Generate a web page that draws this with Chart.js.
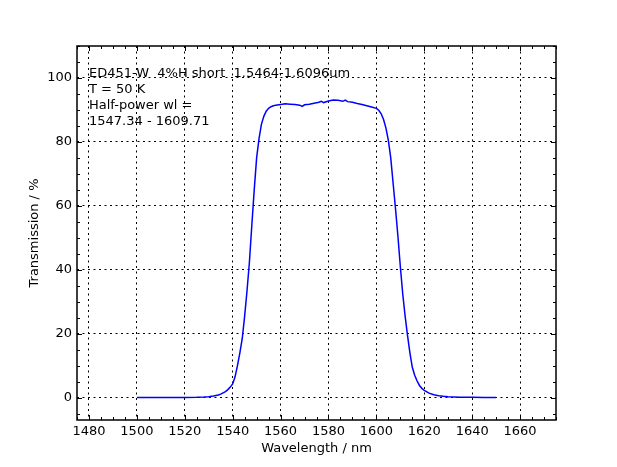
<!DOCTYPE html>
<html lang="en">
<head>
  <meta charset="UTF-8">
  <title>ED451-W transmission</title>
  <style>
    body { margin: 0; background: #fff; }
    #wrap { width: 617px; height: 467px; }
  </style>
</head>
<body>
<div id="wrap">
  <canvas id="transChart" width="617" height="467"></canvas>
</div>
<script src="https://cdn.jsdelivr.net/npm/chart.js"></script>
<script>
  // wavelength (nm) and transmission (%)
  const wavelength = [
    1500, 1505, 1510, 1515, 1520, 1525, 1528, 1530, 1532, 1534,
    1535, 1536, 1537, 1538, 1539, 1540, 1541, 1542, 1543, 1544,
    1545, 1546, 1547, 1548, 1549, 1550, 1551, 1552, 1553, 1554,
    1555, 1556, 1557, 1558, 1560, 1562, 1564, 1566, 1568, 1569,
    1570, 1572, 1574, 1576, 1577, 1578, 1580, 1582, 1584, 1586,
    1587, 1588, 1590, 1592, 1594, 1596, 1598, 1600, 1601, 1602,
    1603, 1604, 1605, 1606, 1607, 1608, 1609, 1610, 1611, 1612,
    1613, 1614, 1615, 1616, 1617, 1618, 1619, 1620, 1622, 1624,
    1626, 1628, 1630, 1635, 1640, 1645, 1650
  ];
  const transmission = [
    0.0, 0.0, 0.0, 0.0, 0.05, 0.1, 0.2, 0.3, 0.5, 0.8,
    1.1, 1.5, 1.9, 2.5, 3.3, 4.3, 6.5, 10, 14, 18.5,
    25.5, 33.5, 42.5, 54, 65, 75, 81, 85.5, 88, 89.6,
    90.5, 91.0, 91.3, 91.5, 91.7, 91.9, 91.8, 91.7, 91.5, 91.1,
    91.6, 91.8, 92.1, 92.4, 92.7, 92.3, 92.8, 93.1, 93.0, 92.7,
    93.1, 92.6, 92.4, 92.0, 91.7, 91.3, 90.9, 90.5, 89.9, 88.8,
    87.0, 84.3, 80.5, 75, 67, 59, 50.5, 41, 32.5, 25.5,
    19.5, 14, 9.5, 7, 5.2, 3.8, 2.9, 2.3, 1.4, 0.9,
    0.6, 0.4, 0.3, 0.15, 0.1, 0.05, 0.05
  ];

  const xTicks = [1480, 1500, 1520, 1540, 1560, 1580, 1600, 1620, 1640, 1660];
  const yTicks = [0, 20, 40, 60, 80, 100];
  const xRange = [1475, 1675];
  const yRange = [-7, 110];
  const noteLines = [
    'ED451-W  4%H short  1.5464-1.6096um',
    'T = 50 K',
    'Half-power wl =',
    '1547.34 - 1609.71'
  ];

  const FONT = 'DejaVu Sans';

  // matplotlib style frame: box around axes, inward ticks on all four sides, note text
  const framePlugin = {
    id: 'frame',
    afterDatasetsDraw(chart) {
      const ctx = chart.ctx;
      const a = chart.chartArea;
      const xs = chart.scales.x;
      const ys = chart.scales.y;
      ctx.save();
      ctx.strokeStyle = '#000';
      ctx.lineWidth = 1;
      ctx.beginPath();
      for (let v = 1475; v <= 1675; v += 5) {
        const px = Math.round(xs.getPixelForValue(v)) + 0.5;
        const len = xTicks.includes(v) ? 5 : 3;
        ctx.moveTo(px, a.bottom); ctx.lineTo(px, a.bottom - len);
        ctx.moveTo(px, a.top); ctx.lineTo(px, a.top + len);
      }
      for (let v = -5; v <= 110; v += 5) {
        const py = Math.round(ys.getPixelForValue(v)) + 0.5;
        const len = yTicks.includes(v) ? 5 : 3;
        ctx.moveTo(a.left, py); ctx.lineTo(a.left + len, py);
        ctx.moveTo(a.right, py); ctx.lineTo(a.right - len, py);
      }
      ctx.stroke();
      ctx.lineWidth = 1.5;
      ctx.strokeRect(a.left, a.top, a.right - a.left, a.bottom - a.top);

      ctx.fillStyle = '#000';
      ctx.font = '13px "' + FONT + '"';
      ctx.textBaseline = 'alphabetic';
      ctx.textAlign = 'left';
      noteLines.forEach((t, i) => ctx.fillText(t, a.left + 12, 77 + i * 16));
      ctx.restore();
    }
  };

  const ctx = document.getElementById('transChart').getContext('2d');
  const chart = new Chart(ctx, {
    type: 'line',
    data: {
      datasets: [{
        data: wavelength.map((w, i) => ({ x: w, y: transmission[i] })),
        borderColor: '#0000ff',
        borderWidth: 1.5,
        pointRadius: 0,
        tension: 0,
        fill: false
      }]
    },
    options: {
      responsive: false,
      animation: false,
      layout: { padding: { top: 46, right: 61, left: 0, bottom: 0 } },
      plugins: {
        legend: { display: false },
        tooltip: { enabled: false }
      },
      scales: {
        x: {
          type: 'linear',
          min: xRange[0],
          max: xRange[1],
          afterBuildTicks: s => { s.ticks = xTicks.map(v => ({ value: v })); },
          afterFit: s => { s.height = 47; },
          grid: { color: '#000', lineWidth: 1, drawTicks: false },
          border: { display: false, dash: [2, 3.5] },
          ticks: {
            color: '#000',
            padding: 4,
            maxRotation: 0,
            font: { family: FONT, size: 13 },
            callback: v => String(v)
          },
          title: {
            display: true,
            text: 'Wavelength / nm',
            color: '#000',
            font: { family: FONT, size: 13 },
            padding: { top: 0, bottom: 11 }
          }
        },
        y: {
          min: yRange[0],
          max: yRange[1],
          afterBuildTicks: s => { s.ticks = yTicks.map(v => ({ value: v })); },
          afterFit: s => { s.width = 77; },
          grid: { color: '#000', lineWidth: 1, drawTicks: false },
          border: { display: false, dash: [2, 3.5] },
          ticks: {
            color: '#000',
            padding: 5,
            font: { family: FONT, size: 13 },
            callback: v => String(v)
          },
          title: {
            display: true,
            text: 'Transmission / %',
            color: '#000',
            font: { family: FONT, size: 13 },
            padding: { top: 27, bottom: 0 }
          }
        }
      }
    },
    plugins: [framePlugin]
  });
</script>
</body>
</html>
